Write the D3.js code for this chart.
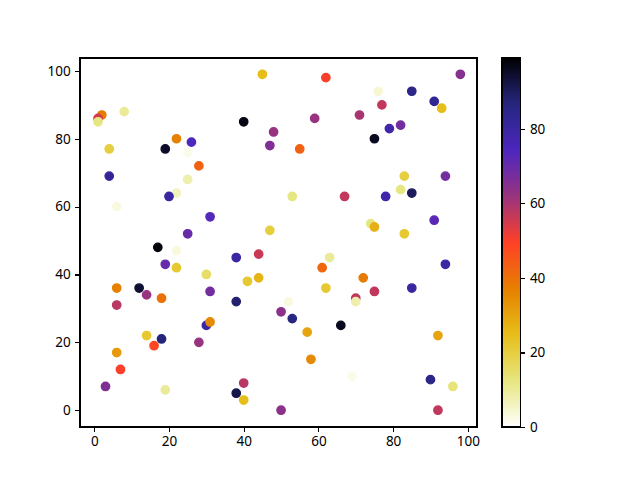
<!DOCTYPE html>
<html>
<head>
<meta charset="utf-8"/>
<title>Scatter with colorbar</title>
<script src="https://cdn.jsdelivr.net/npm/d3@7"></script>
<style>
  body { margin: 0; background: #fff; }
  .axis text { font-family: "Noto Sans", sans-serif; font-size: 13.5px; fill: #000; }
  .axis path, .axis line { stroke: #000; stroke-width: 1.1; shape-rendering: crispEdges; }
</style>
</head>
<body>
<div id="chart"></div>
<script>
// point data
var xs = [45, 8, 2, 1, 1, 40, 48, 47, 22, 26, 19, 4, 25, 28, 25, 4, 22, 20, 6, 31, 25, 47, 17,
          62, 98, 76, 85, 91, 93, 77, 59, 71, 82, 79, 75, 55, 83, 94, 82, 85, 78, 67, 53, 91, 74, 75, 83,
          22, 19, 22, 38, 44, 30, 41, 44, 6, 12, 14, 18, 31, 6, 38, 50, 30, 31, 14, 18, 16, 28, 6, 7, 3, 19, 40, 38, 40, 50,
          63, 61, 72, 62, 75, 70, 70, 52, 53, 66, 57, 58, 85, 94, 92, 69, 90, 96, 92];
var ys = [99, 88, 87, 86, 85, 85, 82, 78, 80, 79, 77, 77, 76, 72, 68, 69, 64, 63, 60, 57, 52, 53, 48,
          98, 99, 94, 94, 91, 89, 90, 86, 87, 84, 83, 80, 77, 69, 69, 65, 64, 63, 63, 63, 56, 55, 54, 52,
          47, 43, 42, 45, 46, 40, 38, 39, 36, 36, 34, 33, 35, 31, 32, 29, 25, 26, 22, 21, 19, 20, 17, 12, 7, 6, 8, 5, 3, 0,
          45, 42, 39, 36, 35, 33, 32, 32, 27, 25, 23, 15, 36, 43, 22, 10, 9, 7, 0];
var cs = [25, 10, 38, 55, 12, 97, 62, 66, 37, 74, 95, 20, 2, 43, 8, 82, 6, 80, 3, 73, 70, 20, 98,
          50, 65, 4, 85, 83, 25, 57, 62, 60, 68, 78, 96, 43, 20, 68, 12, 90, 78, 57, 12, 72, 12, 28, 22,
          3, 70, 22, 80, 56, 15, 22, 27, 37, 94, 62, 40, 68, 58, 88, 64, 80, 35, 22, 87, 48, 62, 32, 50, 66, 10, 58, 92, 25, 64,
          10, 42, 38, 22, 57, 57, 8, 3, 86, 96, 30, 35, 80, 80, 30, 2, 85, 13, 57];

var xTicks = [0, 20, 40, 60, 80, 100];
var yTicks = [0, 20, 40, 60, 80, 100];
var cTicks = [0, 20, 40, 60, 80];

// CMRmap, reversed (white at 0, black at max)
var cmapPos = [0, 0.125, 0.25, 0.375, 0.5, 0.625, 0.75, 0.875, 1];
var cmapRGB = [[0, 0, 0], [0.15, 0.15, 0.5], [0.3, 0.15, 0.75], [0.6, 0.2, 0.5], [1, 0.25, 0.15],
               [0.9, 0.5, 0], [0.9, 0.75, 0.1], [0.9, 0.9, 0.5], [1, 1, 1]];
var cMin = 0, cMax = 99;

var w = 640, h = 480;
var padL = 80, padR = 477, padT = 58, padB = 427;
var cbLeft = 502, cbWidth = 18.5;

var colour = d3.scaleLinear()
    .domain(cmapPos.map(function(p) { return cMax - p * (cMax - cMin); }).reverse())
    .range(cmapRGB.map(function(c) { return d3.rgb(c[0] * 255, c[1] * 255, c[2] * 255); }).reverse())
    .interpolate(d3.interpolateRgb)
    .clamp(true);

var xScale = d3.scaleLinear().domain([-3.83, 102.46]).range([padL, padR]);
var yScale = d3.scaleLinear().domain([-4.95, 103.8]).range([padB, padT]);
var cScale = d3.scaleLinear().domain([cMin, cMax]).range([padB, padT]);

var svg = d3.select("#chart").append("svg")
    .attr("width", w)
    .attr("height", h);

// points
var pts = d3.range(xs.length);
svg.append("g").selectAll("circle")
    .data(pts)
    .enter().append("circle")
    .attr("cx", function(i) { return xScale(xs[i]); })
    .attr("cy", function(i) { return yScale(ys[i]); })
    .attr("r", 4.17)
    .attr("fill", function(i) { return colour(cs[i]); })
    .attr("stroke", function(i) { return colour(cs[i]); })
    .attr("stroke-width", 1.39);

// frame
svg.append("rect")
    .attr("x", padL).attr("y", padT)
    .attr("width", padR - padL).attr("height", padB - padT)
    .attr("fill", "none").attr("stroke", "#000").attr("stroke-width", 1.1)
    .attr("shape-rendering", "crispEdges");

var xAxis = d3.axisBottom(xScale).tickValues(xTicks).tickSize(4.9).tickPadding(4.5);
var yAxis = d3.axisLeft(yScale).tickValues(yTicks).tickSize(4.9).tickPadding(4.5);

svg.append("g").attr("class", "axis")
    .attr("transform", "translate(0," + padB + ")")
    .call(xAxis)
    .call(function(g) { g.select(".domain").remove(); });

svg.append("g").attr("class", "axis")
    .attr("transform", "translate(" + padL + ",0)")
    .call(yAxis)
    .call(function(g) { g.select(".domain").remove(); });

// colorbar
var defs = svg.append("defs");
var grad = defs.append("linearGradient")
    .attr("id", "cbar")
    .attr("x1", "0").attr("y1", "1").attr("x2", "0").attr("y2", "0");
d3.range(0, 1.0001, 0.02).forEach(function(t) {
    grad.append("stop")
        .attr("offset", t)
        .attr("stop-color", colour(cMin + t * (cMax - cMin)));
});

svg.append("rect")
    .attr("x", cbLeft).attr("y", padT)
    .attr("width", cbWidth).attr("height", padB - padT)
    .attr("fill", "url(#cbar)")
    .attr("stroke", "#000").attr("stroke-width", 1.1)
    .attr("shape-rendering", "crispEdges");

var cAxis = d3.axisRight(cScale).tickValues(cTicks).tickSize(4.9).tickPadding(4.5);
svg.append("g").attr("class", "axis")
    .attr("transform", "translate(" + (cbLeft + cbWidth) + ",0)")
    .call(cAxis)
    .call(function(g) { g.select(".domain").remove(); });
</script>
</body>
</html>
